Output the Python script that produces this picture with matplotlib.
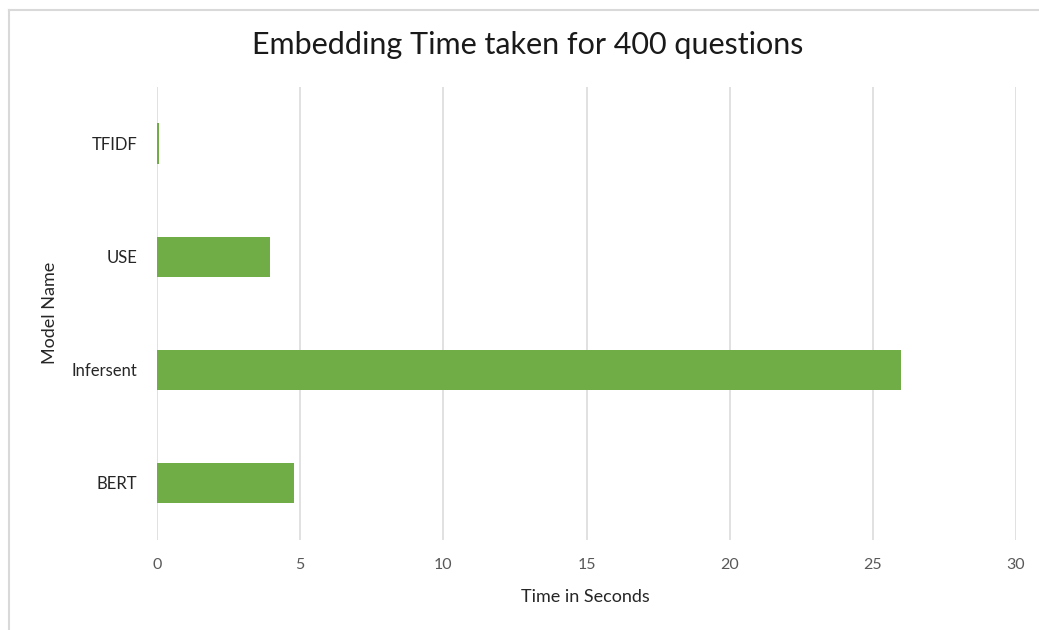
import matplotlib
matplotlib.use("Agg")
import matplotlib.pyplot as plt
from matplotlib.lines import Line2D

models = ["BERT", "Infersent", "USE", "TFIDF"]
times = [4.8, 26.0, 3.95, 0.08]
xticks = [0, 5, 10, 15, 20, 25, 30]

plt.rcParams['font.family'] = ['Lato', 'DejaVu Sans']

fig = plt.figure(figsize=(10.39, 6.30), dpi=100)
ax = fig.add_axes([157/1039, 1-539.5/630, (1016-157)/1039, (539.5-87)/630])

ax.barh(range(len(models)), times, height=0.355, color="#70ad47", zorder=3)
ax.set_xlim(0, 30)
ax.set_ylim(-0.5, len(models)-0.5)
ax.set_xticks(xticks)
ax.set_yticks(range(len(models)))
ax.set_yticklabels(models, fontsize=12, color="#262626")
ax.set_xticklabels([str(t) for t in xticks], fontsize=11.5, color="#595959")
ax.tick_params(axis='both', length=0)
ax.tick_params(axis='x', pad=13)
ax.tick_params(axis='y', pad=14)
ax.grid(axis='x', color="#d9d9d9", linewidth=1.1, zorder=0)
for s in ax.spines.values():
    s.set_visible(False)

fig.text(585/1039, 1-597/630, "Time in Seconds", ha='center', va='center', fontsize=13, color="#262626")
fig.text(50/1039, 1-313/630, "Model Name", ha='center', va='center', rotation=90, fontsize=13, color="#262626")
fig.text(528/1039, 1-45/630, "Embedding Time taken for 400 questions", ha='center', va='center', fontsize=22, color="#1a1a1a")

fig.add_artist(Line2D([8.5/1039, 8.5/1039], [0, 1-9.5/630], transform=fig.transFigure, color="#d9d9d9", linewidth=1.5))
fig.add_artist(Line2D([8.5/1039, 1], [1-9.5/630, 1-9.5/630], transform=fig.transFigure, color="#d9d9d9", linewidth=1.5))

fig.savefig("out.png", dpi=100, facecolor="white")
